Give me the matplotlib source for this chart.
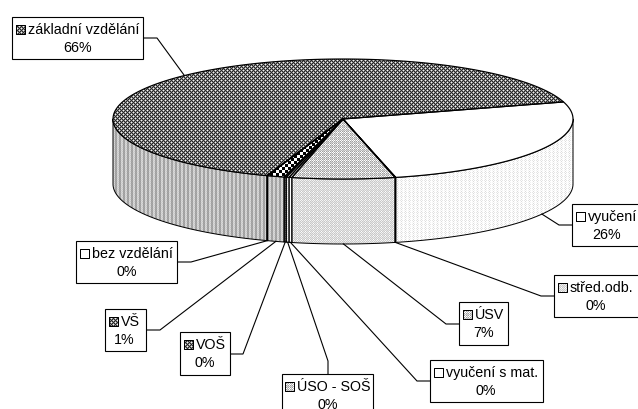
import numpy as np
import matplotlib
matplotlib.use("Agg")
import matplotlib.pyplot as plt
from matplotlib.patches import Polygon, Rectangle

categories = ["vyučení", "střed.odb.", "ÚSV", "vyučení s mat.", "ÚSO - SOŠ",
              "VOŠ", "VŠ", "bez vzdělání", "základní vzdělání"]
values = [25.9, 0.05, 7.2, 0.2, 0.2, 0.15, 1.2, 0.05, 65.05]
pct_labels = ["26%", "0%", "7%", "0%", "0%", "0%", "1%", "0%", "66%"]

plt.rcParams["font.family"] = ["Liberation Sans", "DejaVu Sans"]
W, H = 638, 410
fig = plt.figure(figsize=(W / 100, H / 100), dpi=100)
ax = fig.add_axes([0, 0, 1, 1])
ax.set_xlim(0, W)
ax.set_ylim(H, 0)
ax.axis("off")

CX, CY, A, B, DEPTH = 343, 120, 230, 60, 65
START = 106.5

T = {
    "white": [[1]],
    "dark": [[.15, .55, .15, .55], [.55, .95, .55, .15], [.15, .55, .15, .55], [.55, .15, .55, .95]],
    "stripe": [[.62, .85, .78, .66], [.66, .8, .85, .62]],
    "lightdot": [[1, .86, 1, 1], [.9, 1, .9, 1], [1, .86, 1, 1], [.95, 1, .95, 1]],
    "usvtop": [[.62, 1, .62, .85], [1, .72, 1, .72], [.62, 1, .62, .85], [.85, .72, .85, .72]],
    "usvside": [[.78, 1, .78, .9], [.95, .8, .95, .8], [.78, .95, .78, .9], [.9, .8, .9, .8]],
    "bigcheck": np.kron([[0, 1], [1, 0]], np.ones((3, 3))).tolist(),
    "darkside": [[.3, .5], [.5, .3]],
    "medium": [[.85, .95], [.95, .85]],
}
top_style = ["white", "white", "usvtop", "white", "medium", "darkside", "bigcheck", "white", "dark"]
side_style = ["lightdot", "lightdot", "usvside", "white", "medium", "darkside", "stripe", "white", "stripe"]
key_style = ["white", "usvside", "usvtop", "white", "usvtop", "dark", "dark", "white", "dark"]


def textured(pts, tile, zorder=2, lw=1.0):
    tile = np.asarray(tile, float)
    img = np.tile(tile, (H // tile.shape[0] + 1, W // tile.shape[1] + 1))[:H, :W]
    im = ax.imshow(img, cmap="gray", vmin=0, vmax=1, extent=(0, W, H, 0),
                   interpolation="nearest", aspect="auto", zorder=zorder)
    patch = Polygon(pts, closed=True, fc="none", ec="black", lw=lw * 0.72,
                    zorder=zorder + 0.1, joinstyle="round")
    ax.add_patch(patch)
    im.set_clip_path(patch)


def rim(t, dy=0.0):
    r = np.radians(t)
    return np.column_stack([CX + A * np.sin(r), CY + B * np.cos(r) + dy])


sweep = np.array(values) / sum(values) * 360
edges = START - np.concatenate([[0], np.cumsum(sweep)])

# side walls
for i in range(len(values)):
    hi, lo = min(edges[i], 90), max(edges[i + 1], -90)
    if hi <= lo:
        continue
    t = np.linspace(hi, lo, 80)
    pts = np.vstack([rim(t), rim(t[::-1], DEPTH)])
    textured(pts, T[side_style[i]], zorder=2)

# top faces
for i in range(len(values)):
    t = np.linspace(edges[i], edges[i + 1], 200)
    pts = np.vstack([[[CX, CY]], rim(t)])
    textured(pts, T[top_style[i]], zorder=3, lw=1.2)

# label boxes: left, top, right, bottom; elbow start on the box, elbow offset
boxes = [
    (572, 205, 642, 247, (572, 226), (559, 226)),
    (554, 276, 642, 318, (554, 297), (541, 297)),
    (459, 303, 508, 346, (459, 325), (446, 325)),
    (430, 361, 543, 403, (430, 382), (417, 382)),
    (282, 375, 373, 417, (328, 375), (328, 362)),
    (180, 333, 230, 376, (230, 355), (243, 355)),
    (105, 310, 146, 352, (146, 331), (160, 331)),
    (76, 242, 177, 284, (177, 263), (191, 263)),
    (12, 18, 143, 60, (143, 39), (157, 39)),
]
FS = 10.3
r = fig.canvas.get_renderer()
for i, (l, t_, rr, b, p0, p1) in enumerate(boxes):
    mid = (edges[i] + edges[i + 1]) / 2
    dy = DEPTH if np.cos(np.radians(mid)) > 0 else 0
    anchor = rim(np.array([mid]), dy)[0]
    ax.plot([p0[0], p1[0], anchor[0]], [p0[1], p1[1], anchor[1]], color="black",
            lw=0.8, zorder=4, solid_joinstyle="miter")
    ax.add_patch(Rectangle((l, t_), rr - l, b - t_, fc="white", ec="black", lw=0.8, zorder=5))
    txt = ax.text(l + 15, t_ + 12, categories[i], fontsize=FS, va="center", ha="left", zorder=6)
    bb = txt.get_window_extent(r)
    full = 12 + bb.width
    x0 = (l + min(rr, l + full + 8)) / 2 - full / 2
    txt.set_x(x0 + 12)
    kx, ky = x0, t_ + 7.5
    textured([(kx, ky), (kx + 9, ky), (kx + 9, ky + 9), (kx, ky + 9)], T[key_style[i]], zorder=6)
    ax.text(x0 + full / 2, t_ + 30, pct_labels[i], fontsize=FS, va="center", ha="center", zorder=6)

ax.set_xlim(0, W)
ax.set_ylim(H, 0)
fig.savefig("out.png", dpi=100, facecolor="white")
